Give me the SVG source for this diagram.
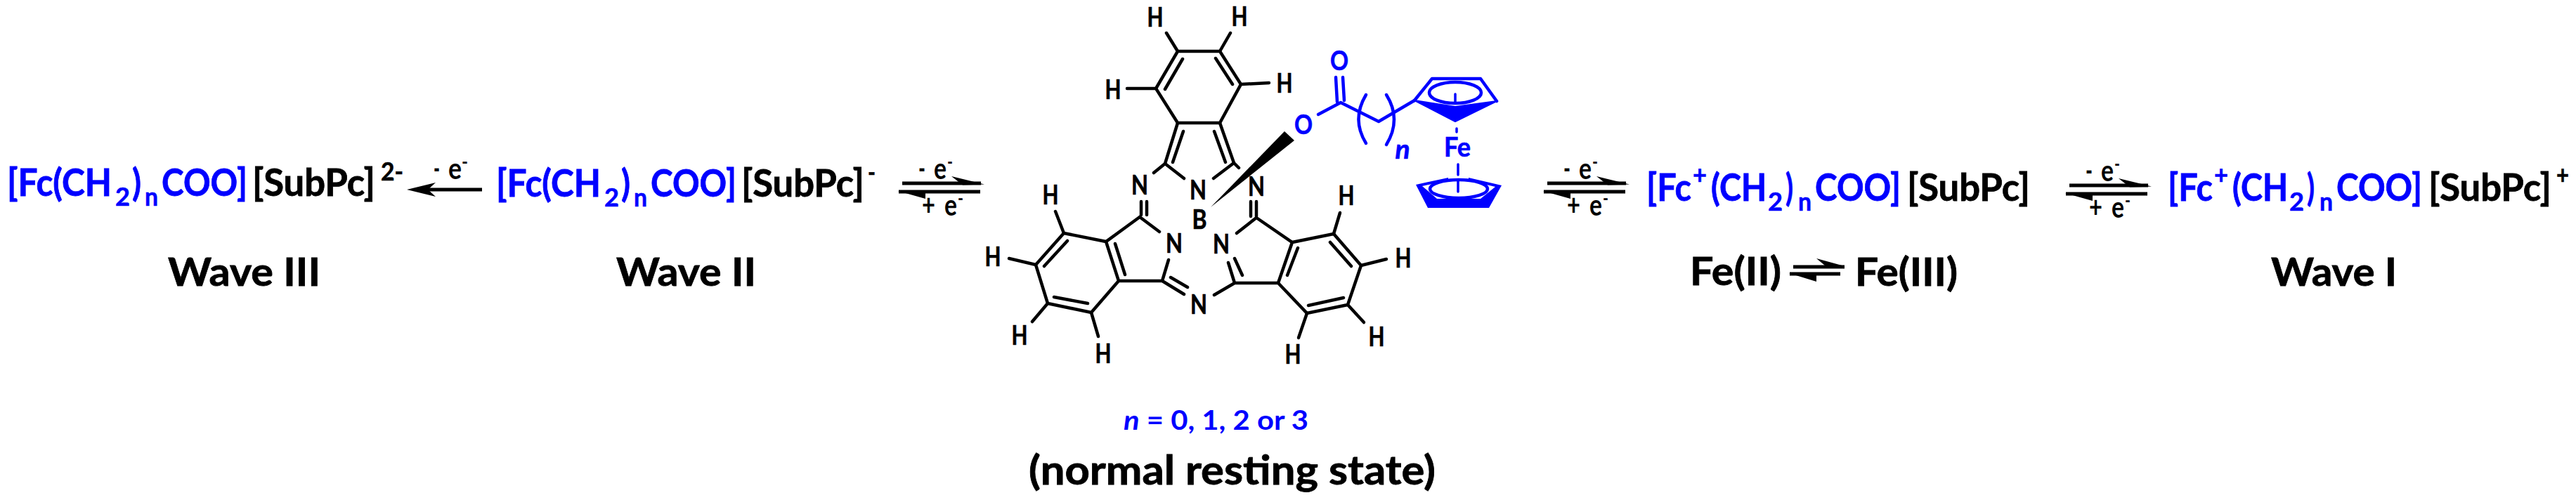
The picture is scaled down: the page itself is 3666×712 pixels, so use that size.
<svg xmlns="http://www.w3.org/2000/svg" xmlns:xlink="http://www.w3.org/1999/xlink" width="3666" height="712" viewBox="0 0 3666 712">
<style>
text{font-family:Lato,"Liberation Sans",sans-serif;font-weight:700;fill:#000}
.f{font-size:53px;stroke:#000;stroke-width:.8}.s{font-size:37px;stroke:#000;stroke-width:.6}
.b{fill:#0000ff;stroke:#0000ff}
.w{font-size:55px;stroke:#000;stroke-width:.8}.h{font-size:39px;text-anchor:middle;stroke:#000;stroke-width:.7}.hb{fill:#0000ff;stroke:#0000ff}.e{font-size:42px}.m{font-size:26px}
.bond{stroke:#000;stroke-width:4.5;stroke-linecap:round;fill:none}
.blue{stroke:#0000ff;stroke-width:4.5;stroke-linecap:round;stroke-linejoin:round;fill:none}
.thin{stroke:#0000ff;stroke-width:3.5;stroke-linecap:round;fill:none}
.ar{stroke:#000;stroke-width:5;fill:none}
</style>
<defs>
<g id="eq">
<path class="ar" d="M6 -6H118"/><path d="M76 -16L123 -4.500L92 -3.500Z"/>
<path class="ar" d="M1 6H117"/><path d="M0 5L39 4L39 8L39 16Z"/>
<text class="e" x="29" y="-12" textLength="10" lengthAdjust="spacingAndGlyphs">-</text>
<text class="e" x="51" y="-12" textLength="18" lengthAdjust="spacingAndGlyphs">e</text>
<text class="m" x="70" y="-27" textLength="8" lengthAdjust="spacingAndGlyphs">-</text>
<text class="e" x="34" y="40" textLength="19" lengthAdjust="spacingAndGlyphs">+</text>
<text class="e" x="66" y="40" textLength="18" lengthAdjust="spacingAndGlyphs">e</text>
<text class="m" x="85" y="25" textLength="8" lengthAdjust="spacingAndGlyphs">-</text>
</g>
<g id="base">
<text class="f b" x="0" y="0" textLength="149" lengthAdjust="spacingAndGlyphs">[Fc(CH</text>
<text class="s b" x="154" y="14" textLength="21" lengthAdjust="spacingAndGlyphs">2</text>
<text class="f b" x="178" y="0" textLength="13" lengthAdjust="spacingAndGlyphs">)</text>
<text class="s b" x="196" y="14" textLength="19" lengthAdjust="spacingAndGlyphs">n</text>
<text class="f b" x="220" y="0" textLength="122" lengthAdjust="spacingAndGlyphs">COO]</text>
<text class="f" x="349" y="0" textLength="175" lengthAdjust="spacingAndGlyphs">[SubPc]</text>
</g>
<g id="basep">
<text class="f b" x="0" y="0" textLength="64" lengthAdjust="spacingAndGlyphs">[Fc</text>
<text class="s b" x="66" y="-24" textLength="20" lengthAdjust="spacingAndGlyphs">+</text>
<text class="f b" x="92" y="0" textLength="79" lengthAdjust="spacingAndGlyphs">(CH</text>
<text class="s b" x="173" y="14" textLength="21" lengthAdjust="spacingAndGlyphs">2</text>
<text class="f b" x="198" y="0" textLength="11" lengthAdjust="spacingAndGlyphs">)</text>
<text class="s b" x="216" y="14" textLength="19" lengthAdjust="spacingAndGlyphs">n</text>
<text class="f b" x="240" y="0" textLength="122" lengthAdjust="spacingAndGlyphs">COO]</text>
<text class="f" x="371" y="0" textLength="175" lengthAdjust="spacingAndGlyphs">[SubPc]</text>
</g>
</defs>
<g id="connectors">
<use xlink:href="#eq" href="#eq" x="1278" y="267"/>
<use xlink:href="#eq" href="#eq" x="2196" y="267"/>
<use xlink:href="#eq" href="#eq" x="2939" y="270"/>
<g id="arrow-wave3">
<path class="ar" d="M606 270H686"/><path d="M579 270L620 260L609 270L620 280Z"/>
<text class="e" x="617" y="255" textLength="9" lengthAdjust="spacingAndGlyphs">-</text>
<text class="e" x="638" y="255" textLength="19" lengthAdjust="spacingAndGlyphs">e</text>
<text class="m" x="657" y="240" textLength="9" lengthAdjust="spacingAndGlyphs">-</text>
</g>
<g id="arrow-fe">
<path class="ar" d="M2552 380H2625"/><path d="M2585 368L2625 379L2597 378Z"/>
<path class="ar" d="M2547 390H2619"/><path d="M2546 389L2585 390L2585 401Z"/>
</g>
</g>
<g id="wave3-species">
<use xlink:href="#base" href="#base" x="10" y="279"/>
<text class="s" x="542" y="257" textLength="32" lengthAdjust="spacingAndGlyphs">2-</text>
<text class="w" x="239" y="407" textLength="217" lengthAdjust="spacingAndGlyphs">Wave III</text>
</g>
<g id="wave2-species">
<use xlink:href="#base" href="#base" x="706" y="280"/>
<text class="s" x="1235" y="258" textLength="11" lengthAdjust="spacingAndGlyphs">-</text>
<text class="w" x="877" y="407" textLength="199" lengthAdjust="spacingAndGlyphs">Wave II</text>
</g>
<g id="fe-species">
<use xlink:href="#basep" href="#basep" x="2343" y="286"/>
<text class="w" x="2405" y="406" textLength="130" lengthAdjust="spacingAndGlyphs">Fe(II)</text>
<text class="w" x="2640" y="407" textLength="146" lengthAdjust="spacingAndGlyphs">Fe(III)</text>
</g>
<g id="wave1-species">
<use xlink:href="#basep" href="#basep" x="3085" y="286"/>
<text class="s" x="3638" y="262" textLength="18" lengthAdjust="spacingAndGlyphs">+</text>
<text class="w" x="3232" y="407" textLength="179" lengthAdjust="spacingAndGlyphs">Wave I</text>
</g>
<g id="subpc-molecule">
<path class="bond" d="M1676 73H1736L1766 120L1736 175H1676L1645 126Z"/>
<path class="bond" d="M1660 47L1676 73M1751 47L1736 73M1766 120L1806 118M1645 126H1604M1683 84L1658 127M1730 83L1754 120"/>
<path class="bond" d="M1676 175L1658 233L1685 254M1736 175L1756 232L1727 254M1684 187L1669 231M1728 187L1744 231M1658 233L1642 246M1756 232L1763 239"/>
<path class="bond" d="M1624 287V306M1632 287V306M1780 287V308M1788 287V308"/>
<path class="bond" d="M1622 309L1650 330M1622 309L1574 344L1514 332L1474 377L1491 432L1553 445L1592 400L1574 344M1592 400H1654L1663 370M1666 395L1690 409M1654 400L1685 419M1587 347L1601 391M1519 343L1486 379M1500 423L1548 432"/>
<path class="bond" d="M1502 301L1514 332M1436 368L1474 377M1469 458L1491 432M1553 445L1563 479"/>
<path class="bond" d="M1788 310L1760 332M1788 310L1839 345L1898 333L1937 378L1918 434L1860 446L1819 403L1839 345M1728 420L1757 403H1819M1757 403L1748 374M1768 392L1757 368M1847 353L1832 392M1893 345L1923 379M1912 424L1862 435"/>
<path class="bond" d="M1907 303L1898 333M1973 369L1937 378M1941 459L1918 434M1860 446L1848 481"/>
<path d="M1723 295L1828 187L1842 200Z"/>
<text class="h" x="1644" y="38" textLength="23" lengthAdjust="spacingAndGlyphs">H</text><text class="h" x="1764" y="37" textLength="23" lengthAdjust="spacingAndGlyphs">H</text><text class="h" x="1828" y="132" textLength="23" lengthAdjust="spacingAndGlyphs">H</text><text class="h" x="1584" y="141" textLength="23" lengthAdjust="spacingAndGlyphs">H</text>
<text class="h" x="1622" y="277" textLength="24" lengthAdjust="spacingAndGlyphs">N</text><text class="h" x="1705" y="284" textLength="24" lengthAdjust="spacingAndGlyphs">N</text><text class="h" x="1788" y="279" textLength="24" lengthAdjust="spacingAndGlyphs">N</text><text class="h" x="1707" y="326" textLength="21" lengthAdjust="spacingAndGlyphs">B</text>
<text class="h" x="1671" y="360" textLength="24" lengthAdjust="spacingAndGlyphs">N</text><text class="h" x="1738" y="361" textLength="24" lengthAdjust="spacingAndGlyphs">N</text><text class="h" x="1706" y="447" textLength="24" lengthAdjust="spacingAndGlyphs">N</text>
<text class="h" x="1495" y="291" textLength="23" lengthAdjust="spacingAndGlyphs">H</text><text class="h" x="1413" y="379" textLength="23" lengthAdjust="spacingAndGlyphs">H</text><text class="h" x="1451" y="491" textLength="23" lengthAdjust="spacingAndGlyphs">H</text><text class="h" x="1570" y="517" textLength="23" lengthAdjust="spacingAndGlyphs">H</text>
<text class="h" x="1916" y="292" textLength="23" lengthAdjust="spacingAndGlyphs">H</text><text class="h" x="1997" y="381" textLength="23" lengthAdjust="spacingAndGlyphs">H</text><text class="h" x="1959" y="493" textLength="23" lengthAdjust="spacingAndGlyphs">H</text><text class="h" x="1840" y="518" textLength="23" lengthAdjust="spacingAndGlyphs">H</text>
</g>
<g id="ferrocene-chain">
<path class="blue" d="M1876 163L1908 146L1962 173L2013 143M1901 110L1903 145M1911 110L1913 143"/>
<path class="blue" d="M1944 135Q1923 170 1944 204M1973 135Q1995 170 1973 206"/>
<path class="blue" d="M2013 143L2038 112H2107L2130 144"/>
<path d="M2013 143L2071 152L2130 144L2071 173Z" fill="#0000ff" stroke="#0000ff" stroke-width="2" stroke-linejoin="round"/>
<ellipse class="blue" cx="2071" cy="132" rx="37" ry="15"/>
<path class="thin" d="M2071 134V145M2073 183V188M2075 234V249M2075 257V273"/>
<path d="M2015 263L2061 253L2061 257L2024 265L2045 283H2107L2128 266L2090 257L2090 253L2137 264L2119 296H2032Z" fill="#0000ff"/>
<ellipse class="blue" cx="2076" cy="269" rx="41" ry="13"/>
<text class="h hb" x="1855" y="191" textLength="26" lengthAdjust="spacingAndGlyphs">O</text><text class="h hb" x="1906" y="100" textLength="26" lengthAdjust="spacingAndGlyphs">O</text><text class="h hb" x="2074" y="223" textLength="38" lengthAdjust="spacingAndGlyphs">Fe</text>
<text class="h hb" x="1996" y="226" font-style="italic">n</text>
</g>
<g id="captions">
<text x="1599" y="612" font-size="39" style="fill:#0000ff" textLength="263" lengthAdjust="spacingAndGlyphs"><tspan font-style="italic">n</tspan> = 0, 1, 2 or 3</text>
<text x="1464" y="690" font-size="58" stroke="#000" stroke-width=".8" textLength="579" lengthAdjust="spacingAndGlyphs">(normal resting state)</text>
</g>
</svg>
